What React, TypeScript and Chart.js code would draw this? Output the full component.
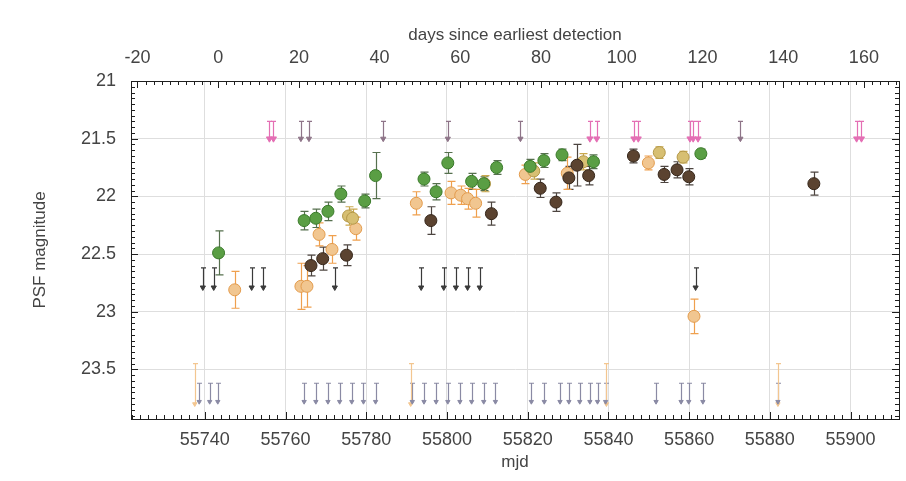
import React, { useEffect, useRef } from "react";
import { Chart, registerables } from "chart.js";

Chart.register(...registerables);

// MJD of the earliest detection (zero point of the top axis)
const T0 = 55743.3;

const MJD_MIN = 55721.7;
const MJD_MAX = 55912.0;
const MAG_MIN = 21;
const MAG_MAX = 23.93;

const MJD_TICKS = [55740, 55760, 55780, 55800, 55820, 55840, 55860, 55880, 55900];
const DAY_TICKS = [-20, 0, 20, 40, 60, 80, 100, 120, 140, 160];
const MAG_TICKS = [21, 21.5, 22, 22.5, 23, 23.5];

// detections: [mjd, magnitude, error]
const GREEN_POINTS = [
  [55743.4, 22.49, 0.19],
  [55764.6, 22.21, 0.08],
  [55767.5, 22.19, 0.08],
  [55770.5, 22.13, 0.08],
  [55773.7, 21.98, 0.07],
  [55779.6, 22.04, 0.06],
  [55782.3, 21.82, 0.2],
  [55794.3, 21.85, 0.06],
  [55797.3, 21.96, 0.07],
  [55800.2, 21.71, 0.09],
  [55806.1, 21.87, 0.07],
  [55809.1, 21.89, 0.06],
  [55812.3, 21.75, 0.06],
  [55820.6, 21.74, 0.06],
  [55824.0, 21.69, 0.06],
  [55828.5, 21.64, 0.05],
  [55836.3, 21.7, 0.06],
  [55862.9, 21.63, 0.04],
];

const BROWN_POINTS = [
  [55766.3, 22.6, 0.09],
  [55769.2, 22.54, 0.1],
  [55775.1, 22.51, 0.09],
  [55796.0, 22.21, 0.12],
  [55811.0, 22.15, 0.1],
  [55823.1, 21.93, 0.08],
  [55827.0, 22.05, 0.08],
  [55830.2, 21.84, 0.1],
  [55832.2, 21.73, 0.18],
  [55835.1, 21.82, 0.08],
  [55846.2, 21.65, 0.06],
  [55853.8, 21.81, 0.07],
  [55857.0, 21.77, 0.07],
  [55859.9, 21.83, 0.07],
  [55890.9, 21.89, 0.1],
];

const TAN_POINTS = [
  [55747.4, 22.81, 0.16],
  [55763.8, 22.78, 0.2],
  [55765.3, 22.78, 0.18],
  [55768.3, 22.33, 0.1],
  [55771.5, 22.46, 0.12],
  [55777.4, 22.28, 0.1],
  [55792.4, 22.06, 0.1],
  [55801.0, 21.97, 0.1],
  [55803.4, 21.99, 0.08],
  [55805.1, 22.02, 0.09],
  [55807.1, 22.06, 0.12],
  [55819.4, 21.81, 0.08],
  [55829.8, 21.8, 0.14],
  [55849.9, 21.71, 0.06],
  [55861.2, 23.04, 0.15],
];

const KHAKI_POINTS = [
  [55775.6, 22.17, 0.08],
  [55776.6, 22.19, 0.08],
  [55809.3, 21.89, 0.07],
  [55821.5, 21.78, 0.07],
  [55833.8, 21.7, 0.07],
  [55852.6, 21.62, 0.05],
  [55858.5, 21.66, 0.05],
];

// upper limits: [mjd, limiting magnitude]
const PINK_LIMITS = [
  [55756.0, 21.5], [55757.0, 21.5], [55835.4, 21.5], [55837.1, 21.5],
  [55846.3, 21.5], [55847.4, 21.5], [55860.2, 21.5], [55861.0, 21.5],
  [55862.2, 21.5], [55901.5, 21.5], [55902.7, 21.5],
];

const MAUVE_LIMITS = [
  [55763.8, 21.5], [55765.8, 21.5], [55784.2, 21.5], [55800.2, 21.5],
  [55818.2, 21.5], [55872.7, 21.5],
];

const DARK_LIMITS = [
  [55739.5, 22.79], [55742.2, 22.79], [55751.6, 22.79], [55754.5, 22.79],
  [55772.2, 22.79], [55793.6, 22.79], [55799.2, 22.79], [55802.2, 22.79],
  [55805.1, 22.79], [55808.1, 22.79], [55861.6, 22.79],
];

const FAINT_LIMITS = [
  [55738.6, 23.78], [55741.2, 23.78], [55743.2, 23.78],
  [55764.6, 23.78], [55767.5, 23.78], [55770.5, 23.78], [55773.4, 23.78],
  [55776.4, 23.78], [55779.3, 23.78], [55782.3, 23.78],
  [55791.4, 23.78], [55794.3, 23.78], [55797.3, 23.78], [55800.2, 23.78],
  [55803.2, 23.78], [55806.1, 23.78], [55809.1, 23.78], [55812.0, 23.78],
  [55820.9, 23.78], [55824.1, 23.78], [55828.0, 23.78], [55830.2, 23.78],
  [55832.9, 23.78], [55835.4, 23.78], [55837.3, 23.78], [55839.3, 23.78],
  [55851.8, 23.78], [55858.0, 23.78], [55859.9, 23.78], [55863.4, 23.78],
  [55882.0, 23.78],
];

const ORANGE_LIMITS = [
  [55737.5, 23.8], [55791.0, 23.8], [55839.5, 23.8], [55882.0, 23.8],
];

const TICK_FONT = { family: "'Liberation Sans', Arial, sans-serif", size: 18 };
const TITLE_FONT = { family: "'Liberation Sans', Arial, sans-serif", size: 17 };
const TEXT = "#444444";
const AXIS = "#1e1e1e";
const GRID = "#dedede";

const toPoints = (rows: number[][]) => rows.map(([x, y, e]) => ({ x, y, e }));

// error bars and upper-limit stems, drawn beneath the markers
const errorBarPlugin = {
  id: "errorBars",
  beforeDatasetsDraw(chart: any) {
    const { ctx, scales } = chart;
    const xs = scales.x;
    const ys = scales.y;
    ctx.save();
    chart.data.datasets.forEach((ds: any) => {
      ctx.strokeStyle = ds.barColor;
      ctx.lineWidth = 1.2;
      ds.data.forEach((p: any) => {
        const px = Math.round(xs.getPixelForValue(p.x)) + 0.5;
        if (ds.stem) {
          const y0 = ys.getPixelForValue(p.y - ds.stem);
          const y1 = ys.getPixelForValue(p.y);
          ctx.beginPath();
          ctx.moveTo(px, y0);
          ctx.lineTo(px, y1);
          ctx.moveTo(px - 2.5, y0);
          ctx.lineTo(px + 2.5, y0);
          ctx.stroke();
        } else if (p.e) {
          const y0 = ys.getPixelForValue(p.y - p.e);
          const y1 = ys.getPixelForValue(p.y + p.e);
          ctx.beginPath();
          ctx.moveTo(px, y0);
          ctx.lineTo(px, y1);
          ctx.moveTo(px - 4, y0);
          ctx.lineTo(px + 4, y0);
          ctx.moveTo(px - 4, y1);
          ctx.lineTo(px + 4, y1);
          ctx.stroke();
        }
      });
    });
    ctx.restore();
  },
};

// inward major and minor tick marks on all four sides of the frame
const tickPlugin = {
  id: "inwardTicks",
  afterDatasetsDraw(chart: any) {
    const { ctx, chartArea: a, scales } = chart;
    ctx.save();
    ctx.strokeStyle = AXIS;
    ctx.lineWidth = 1;
    const run = (scale: any, major: number, subdiv: number, draw: (p: number, len: number) => void) => {
      const minor = major / subdiv;
      const k0 = Math.ceil(scale.min / minor - 1e-6);
      const k1 = Math.floor(scale.max / minor + 1e-6);
      for (let k = k0; k <= k1; k++) {
        const isMajor = Math.abs(k % subdiv) === 0;
        draw(Math.round(scale.getPixelForValue(k * minor)) + 0.5, isMajor ? 7 : 4);
      }
    };
    ctx.beginPath();
    run(scales.x, 20, 10, (p, len) => {
      ctx.moveTo(p, a.bottom);
      ctx.lineTo(p, a.bottom - len);
    });
    run(scales.x2, 20, 10, (p, len) => {
      ctx.moveTo(p, a.top);
      ctx.lineTo(p, a.top + len);
    });
    run(scales.y, 0.5, 10, (p, len) => {
      ctx.moveTo(a.left, p);
      ctx.lineTo(a.left + len, p);
    });
    run(scales.y2, 0.5, 10, (p, len) => {
      ctx.moveTo(a.right, p);
      ctx.lineTo(a.right - len, p);
    });
    ctx.stroke();
    ctx.restore();
  },
};

const pointSet = (rows: number[][], fill: string, border: string, bar: string) => ({
  data: toPoints(rows),
  backgroundColor: fill,
  borderColor: border,
  borderWidth: 1,
  pointRadius: 6,
  barColor: bar,
});

const limitSet = (rows: number[][], color: string, stem: number, radius: number) => ({
  data: rows.map(([x, y]) => ({ x, y })),
  pointStyle: "triangle",
  rotation: 180,
  backgroundColor: color,
  borderColor: color,
  borderWidth: 1,
  pointRadius: radius,
  barColor: color,
  stem,
});

export default function App() {
  const ref = useRef<HTMLCanvasElement | null>(null);

  useEffect(() => {
    if (!ref.current) return;
    const chart = new Chart(ref.current, {
      type: "scatter",
      data: {
        datasets: [
          pointSet(BROWN_POINTS, "#5b4330", "#35261a", "#4d4540"),
          pointSet(GREEN_POINTS, "#5a9e44", "#3a7a2a", "#56704e"),
          pointSet(KHAKI_POINTS, "#d7bf72", "#b49848", "#c9a84e"),
          pointSet(TAN_POINTS, "#f1c690", "#e39b4c", "#efa04e"),
          limitSet(DARK_LIMITS, "#3a3a3a", 0.17, 3),
          limitSet(PINK_LIMITS, "#e46fb4", 0.15, 3.5),
          limitSet(MAUVE_LIMITS, "#8e7488", 0.15, 3),
          limitSet(FAINT_LIMITS, "#8a8aa4", 0.16, 2.5),
          limitSet(ORANGE_LIMITS, "#f3c690", 0.35, 2.5),
        ] as any,
      },
      options: {
        animation: false,
        responsive: false,
        devicePixelRatio: 1,
        events: [],
        layout: { padding: 0 },
        plugins: { legend: { display: false }, tooltip: { enabled: false } },
        scales: {
          x: {
            type: "linear",
            position: "bottom",
            min: MJD_MIN,
            max: MJD_MAX,
            afterBuildTicks: (s: any) => {
              s.ticks = MJD_TICKS.map((value) => ({ value }));
            },
            ticks: { callback: (v: any) => String(v), font: TICK_FONT, color: TEXT, padding: 10, maxRotation: 0, autoSkip: false },
            grid: { color: GRID, lineWidth: 1, drawTicks: false },
            border: { color: AXIS, width: 1 },
            title: { display: true, text: "mjd", font: TITLE_FONT, color: TEXT, padding: { top: 0, bottom: 8 } },
            afterFit: (s: any) => {
              s.height = 62;
            },
          },
          x2: {
            type: "linear",
            position: "top",
            min: MJD_MIN - T0,
            max: MJD_MAX - T0,
            afterBuildTicks: (s: any) => {
              s.ticks = DAY_TICKS.map((value) => ({ value }));
            },
            ticks: { callback: (v: any) => String(v), font: TICK_FONT, color: TEXT, padding: 12, maxRotation: 0, autoSkip: false },
            grid: { drawOnChartArea: false, drawTicks: false },
            border: { color: AXIS, width: 1 },
            title: {
              display: true,
              text: "days since earliest detection",
              font: TITLE_FONT,
              color: TEXT,
              padding: { top: 25, bottom: 0 },
            },
            afterFit: (s: any) => {
              s.height = 81;
            },
          },
          y: {
            type: "linear",
            position: "left",
            reverse: true,
            min: MAG_MIN,
            max: MAG_MAX,
            afterBuildTicks: (s: any) => {
              s.ticks = MAG_TICKS.map((value) => ({ value }));
            },
            ticks: { callback: (v: any) => String(v), font: TICK_FONT, color: TEXT, padding: 15 },
            grid: { color: GRID, lineWidth: 1, drawTicks: false },
            border: { color: AXIS, width: 1 },
            title: { display: true, text: "PSF magnitude", font: TITLE_FONT, color: TEXT, padding: { top: 30, bottom: 0 } },
            afterFit: (s: any) => {
              s.width = 131;
            },
          },
          y2: {
            type: "linear",
            position: "right",
            reverse: true,
            min: MAG_MIN,
            max: MAG_MAX,
            ticks: { display: false },
            grid: { drawOnChartArea: false, drawTicks: false },
            border: { color: AXIS, width: 1 },
            afterFit: (s: any) => {
              s.width = 1;
            },
          },
        },
      } as any,
      plugins: [errorBarPlugin, tickPlugin],
    });
    return () => chart.destroy();
  }, []);

  return (
    <div style={{ position: "absolute", left: 0, top: 0, width: 906, height: 481, background: "#fff" }}>
      <canvas ref={ref} width={906} height={481} />
    </div>
  );
}
